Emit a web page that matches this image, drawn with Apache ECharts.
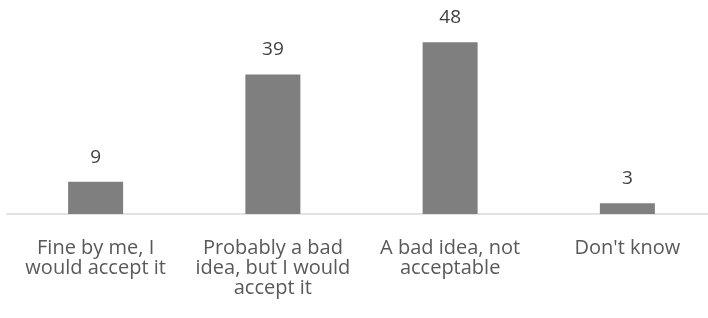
<!DOCTYPE html>
<html>
<head>
<meta charset="utf-8">
<script src="https://cdn.jsdelivr.net/npm/echarts@6/dist/echarts.min.js"></script>
<style>
  html, body { margin: 0; padding: 0; background: #fff; overflow: hidden; }
  #chart { width: 730px; height: 318px; }
</style>
</head>
<body>
<div id="chart"></div>
<script>
var categories = [
    'Fine by me, I\nwould accept it',
    'Probably a bad\nidea, but I would\naccept it',
    'A bad idea, not\nacceptable',
    "Don't know"
];
var values = [9, 39, 48, 3];

var chart = echarts.init(document.querySelector('#chart'), null);
var option = {
    animation: false,
    grid: {
        left: 7,
        top: 35,
        width: 709,
        bottom: 104,
        containLabel: false
    },
    xAxis: {
        type: 'category',
        data: categories,
        axisLine: { lineStyle: { color: '#d9d9d9', width: 1.5 } },
        axisTick: { show: false },
        axisLabel: {
            color: '#595959',
            fontFamily: 'Open Sans',
            fontSize: 20,
            lineHeight: 20,
            margin: 24,
            interval: 0
        }
    },
    yAxis: {
        type: 'value',
        min: 0,
        max: 50,
        show: false,
        splitLine: { show: false }
    },
    series: [{
        type: 'bar',
        data: values,
        barWidth: 55,
        itemStyle: { color: '#7f7f7f' },
        label: {
            show: true,
            position: 'top',
            distance: 15,
            color: '#404040',
            fontFamily: 'Open Sans',
            fontSize: 19
        }
    }]
};

if (option && typeof option === 'object') {
    chart.setOption(option);
}

window.addEventListener('resize', function () {
    chart.resize();
});
</script>
</body>
</html>
